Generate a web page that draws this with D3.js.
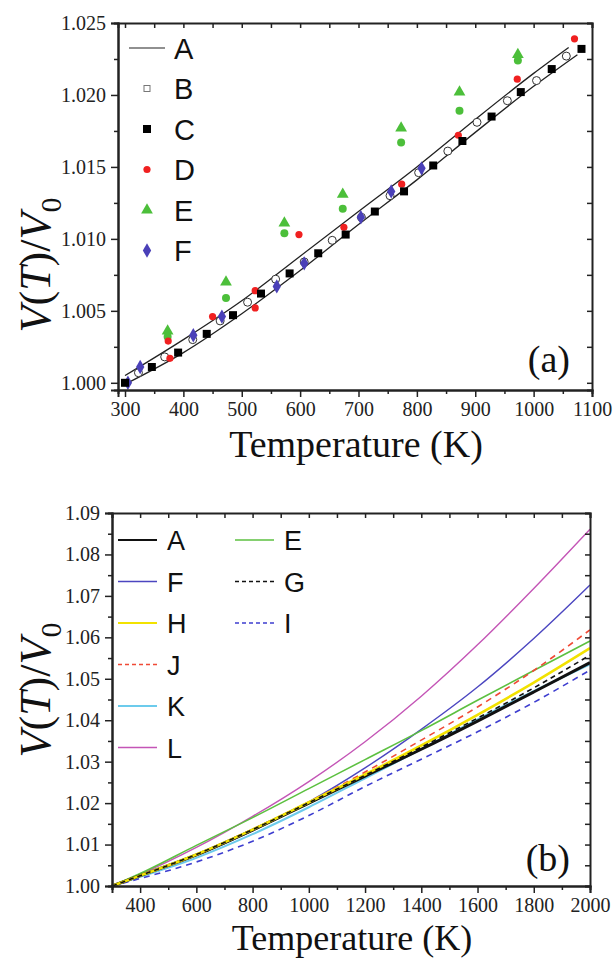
<!DOCTYPE html>
<html>
<head>
<meta charset="utf-8">
<script src="https://cdn.jsdelivr.net/npm/d3@7"></script>
<style>
  body { margin: 0; background: #fff; }
  svg { display: block; }
  .axis path, .axis line { stroke: #222; }
</style>
</head>
<body>
<script>
'use strict';

// ---- panel (a) data ----
var aUpperT = [300, 400, 500, 600, 700, 800, 900, 1000, 1060];
var aUpperV = [1.0005, 1.0030, 1.0057, 1.0088, 1.0119, 1.0150, 1.0183, 1.0215, 1.0233];
var aLowerT = [300, 400, 500, 600, 700, 800, 900, 1000, 1075];
var aLowerV = [0.9999, 1.0021, 1.0048, 1.0078, 1.0110, 1.0141, 1.0174, 1.0206, 1.0228];

var bT = [323, 368, 416, 463, 510, 558, 607, 655, 705, 754, 803, 853, 903, 955, 1005, 1056];
var bV = [1.0007, 1.0018, 1.0030, 1.0043, 1.0056, 1.0072, 1.0084, 1.0099, 1.0115, 1.0130, 1.0146, 1.0161, 1.0181, 1.0196, 1.0210, 1.0227];

var cT = [300, 346, 391, 440, 485, 533, 582, 631, 678, 728, 778, 828, 878, 928, 978, 1031, 1082];
var cV = [1.0000, 1.0011, 1.0021, 1.0034, 1.0047, 1.0062, 1.0076, 1.0090, 1.0103, 1.0119, 1.0133, 1.0151, 1.0168, 1.0185, 1.0202, 1.0218, 1.0232];

var dT = [377, 374, 450, 523, 523, 598, 675, 774, 871, 972, 1070];
var dV = [1.0017, 1.0029, 1.0046, 1.0052, 1.0064, 1.0103, 1.0108, 1.0138, 1.0172, 1.0211, 1.0239];

var eT = [373, 473, 573, 673, 773, 873, 973];
var eUpperV = [1.0036, 1.0070, 1.0111, 1.0131, 1.0177, 1.0202, 1.0228];
var eLowerV = [1.0032, 1.0059, 1.0104, 1.0121, 1.0167, 1.0189, 1.0224];

var fT = [305, 326, 417, 466, 560, 607, 704, 756, 808];
var fV = [1.0000, 1.0011, 1.0033, 1.0046, 1.0067, 1.0083, 1.0115, 1.0133, 1.0149];

var legendA = ['A', 'B', 'C', 'D', 'E', 'F'];
var xTicksA = [300, 400, 500, 600, 700, 800, 900, 1000, 1100];
var yTicksA = [1.000, 1.005, 1.010, 1.015, 1.020, 1.025];

// ---- panel (b) data ----
var tempB = [300, 400, 600, 800, 1000, 1200, 1400, 1600, 1800, 2000];
var serA = [1.0000, 1.0025, 1.0075, 1.0135, 1.0200, 1.0265, 1.0330, 1.0398, 1.0468, 1.0539];
var serE = [1.0000, 1.0030, 1.0098, 1.0165, 1.0235, 1.0305, 1.0375, 1.0448, 1.0520, 1.0591];
var serF = [1.0000, 1.0025, 1.0074, 1.0133, 1.0203, 1.0285, 1.0378, 1.0480, 1.0597, 1.0726];
var serG = [1.0000, 1.0025, 1.0076, 1.0136, 1.0201, 1.0267, 1.0335, 1.0405, 1.0478, 1.0557];
var serH = [1.0000, 1.0025, 1.0076, 1.0136, 1.0202, 1.0269, 1.0339, 1.0413, 1.0491, 1.0574];
var serI = [1.0000, 1.0018, 1.0058, 1.0108, 1.0170, 1.0240, 1.0306, 1.0372, 1.0443, 1.0521];
var serJ = [1.0000, 1.0025, 1.0076, 1.0137, 1.0203, 1.0275, 1.0352, 1.0432, 1.0520, 1.0618];
var serK = [1.0000, 1.0022, 1.0068, 1.0125, 1.0190, 1.0260, 1.0330, 1.0402, 1.0470, 1.0535];
var serL = [1.0000, 1.0028, 1.0093, 1.0168, 1.0252, 1.0348, 1.0458, 1.0582, 1.0718, 1.0861];

var xTicksB = [400, 600, 800, 1000, 1200, 1400, 1600, 1800, 2000];
var yTicksB = [1.00, 1.01, 1.02, 1.03, 1.04, 1.05, 1.06, 1.07, 1.08, 1.09];

var serif = '"Liberation Serif", "Times New Roman", serif';
var sans = '"Liberation Sans", Arial, sans-serif';

var svg = d3.select('body').append('svg').attr('width', 615).attr('height', 959);

//frame with ticks on four sides
function frame(g, x, y, xt, xminor, yt, yminor, xfmt, yfmt, pad) {
  var w = x.range()[1] - x.range()[0];
  var h = y.range()[0] - y.range()[1];
  var x0 = x.range()[0], y0 = y.range()[1];
  g.append('g').attr('class', 'axis').attr('transform', 'translate(0,' + (y0 + h) + ')')
    .call(d3.axisBottom(x).tickValues(xminor).tickSize(4).tickFormat(''));
  g.append('g').attr('class', 'axis').attr('transform', 'translate(0,' + (y0 + h) + ')')
    .call(d3.axisBottom(x).tickValues(xt).tickSize(7).tickPadding(pad).tickFormat(xfmt));
  g.append('g').attr('class', 'axis').attr('transform', 'translate(' + x0 + ',0)')
    .call(d3.axisLeft(y).tickValues(yminor).tickSize(4).tickFormat(''));
  g.append('g').attr('class', 'axis').attr('transform', 'translate(' + x0 + ',0)')
    .call(d3.axisLeft(y).tickValues(yt).tickSize(7).tickPadding(5).tickFormat(yfmt));
  g.append('g').attr('class', 'axis').attr('transform', 'translate(0,' + y0 + ')')
    .call(d3.axisBottom(x).tickValues(xt.concat(xminor)).tickSize(5).tickFormat(''));
  g.append('g').attr('class', 'axis').attr('transform', 'translate(' + (x0 + w) + ',0)')
    .call(d3.axisLeft(y).tickValues(yt.concat(yminor)).tickSize(5).tickFormat(''));
  g.selectAll('.axis').attr('font-family', serif).attr('font-size', 20);
  g.selectAll('.tick text').style('font-family', serif).style('font-size', '20px').attr('fill', '#222');
  g.selectAll('.axis path').attr('stroke-width', 2);
  g.selectAll('.axis line').attr('stroke-width', 1.5);
}

function yTitle(g, cx, cy) {
  var t = g.append('text').attr('transform', 'translate(' + cx + ',' + cy + ') rotate(-90)')
    .attr('text-anchor', 'middle').style('font-family', serif).style('font-size', '44px').attr('fill', '#111');
  t.append('tspan').style('font-style', 'italic').text('V');
  t.append('tspan').text('(');
  t.append('tspan').style('font-style', 'italic').text('T');
  t.append('tspan').text(')/');
  t.append('tspan').style('font-style', 'italic').text('V');
  t.append('tspan').attr('dy', 11).style('font-size', '30px').text('0');
}

function xTitle(g, cx, by, fs) {
  g.append('text').attr('x', cx).attr('y', by).attr('text-anchor', 'middle')
    .style('font-family', serif).style('font-size', fs + 'px').attr('fill', '#111').text('Temperature (K)');
}

// ================= panel (a) =================
var ga = svg.append('g');
var xa = d3.scaleLinear().domain([288, 1100]).range([118, 592]);
var ya = d3.scaleLinear().domain([0.9995, 1.025]).range([390, 23]);

var lineA = d3.line().curve(d3.curveMonotoneX).x(function (d) { return xa(d[0]); }).y(function (d) { return ya(d[1]); });
ga.append('path').datum(d3.zip(aUpperT, aUpperV)).attr('d', lineA).attr('fill', 'none').attr('stroke', '#222').attr('stroke-width', 1.3);
ga.append('path').datum(d3.zip(aLowerT, aLowerV)).attr('d', lineA).attr('fill', 'none').attr('stroke', '#222').attr('stroke-width', 1.3);

var sq = d3.symbol().type(d3.symbolSquare).size(64);
var tri = d3.symbol().type(d3.symbolTriangle).size(60);
var dia = d3.symbol().type(d3.symbolDiamond).size(60);

// E (triangles and circles)
ga.selectAll('.e1').data(d3.zip(eT, eLowerV)).enter().append('circle')
  .attr('cx', function (d) { return xa(d[0]); }).attr('cy', function (d) { return ya(d[1]); })
  .attr('r', 4).attr('fill', '#4cbf3a');
ga.selectAll('.e2').data(d3.zip(eT, eUpperV)).enter().append('path').attr('d', tri)
  .attr('transform', function (d) { return 'translate(' + xa(d[0]) + ',' + ya(d[1]) + ')'; })
  .attr('fill', '#4cbf3a');
// B
ga.selectAll('.b').data(d3.zip(bT, bV)).enter().append('circle')
  .attr('cx', function (d) { return xa(d[0]); }).attr('cy', function (d) { return ya(d[1]); })
  .attr('r', 4).attr('fill', '#fff').attr('stroke', '#333').attr('stroke-width', 1);
// F
ga.selectAll('.f').data(d3.zip(fT, fV)).enter().append('path').attr('d', dia)
  .attr('transform', function (d) { return 'translate(' + xa(d[0]) + ',' + ya(d[1]) + ')'; })
  .attr('fill', '#4a40b8');
// D
ga.selectAll('.d').data(d3.zip(dT, dV)).enter().append('circle')
  .attr('cx', function (d) { return xa(d[0]); }).attr('cy', function (d) { return ya(d[1]); })
  .attr('r', 3.6).attr('fill', '#f02020');
// C
ga.selectAll('.c').data(d3.zip(cT, cV)).enter().append('path').attr('d', sq)
  .attr('transform', function (d) { return 'translate(' + xa(d[0]) + ',' + ya(d[1]) + ')'; })
  .attr('fill', '#000');

frame(ga, xa, ya, xTicksA, [350, 450, 550, 650, 750, 850, 950, 1050],
  yTicksA, [1.0025, 1.0075, 1.0125, 1.0175, 1.0225], d3.format('d'), d3.format('.3f'), 5);

// legend (a)
var legA = ga.append('g');
legendA.forEach(function (k, i) {
  var ly = 48 + i * 40.5;
  if (k === 'A') {
    legA.append('line').attr('x1', 129).attr('x2', 165).attr('y1', ly).attr('y2', ly).attr('stroke', '#222').attr('stroke-width', 1.2);
  } else if (k === 'B') {
    legA.append('rect').attr('x', 144).attr('y', ly - 3).attr('width', 6).attr('height', 6).attr('fill', 'none').attr('stroke', '#777');
  } else if (k === 'C') {
    legA.append('path').attr('d', sq).attr('transform', 'translate(147,' + ly + ')').attr('fill', '#000');
  } else if (k === 'D') {
    legA.append('circle').attr('cx', 147).attr('cy', ly).attr('r', 3.6).attr('fill', '#f02020');
  } else if (k === 'E') {
    legA.append('path').attr('d', tri).attr('transform', 'translate(147,' + ly + ')').attr('fill', '#4cbf3a');
  } else {
    legA.append('path').attr('d', dia).attr('transform', 'translate(147,' + ly + ')').attr('fill', '#4a40b8');
  }
  legA.append('text').attr('x', 174).attr('y', ly + 10.5).style('font-family', sans).style('font-size', '29px').attr('fill', '#111').text(k);
});

ga.append('text').attr('x', 570).attr('y', 372).attr('text-anchor', 'end')
  .style('font-family', serif).style('font-size', '38px').attr('fill', '#111').text('(a)');

xTitle(ga, 356, 457, 38);
yTitle(ga, 50, 265);

// ================= panel (b) =================
var gb = svg.append('g');
var xb = d3.scaleLinear().domain([300, 2000]).range([112, 590]);
var yb = d3.scaleLinear().domain([1.00, 1.09]).range([886, 513]);

var seriesB = [
  { k: 'K', v: serK, c: '#6ccbec', w: 2, dash: null },
  { k: 'I', v: serI, c: '#3e3ed0', w: 1.6, dash: '6,5' },
  { k: 'L', v: serL, c: '#c455b6', w: 1.4, dash: null },
  { k: 'F', v: serF, c: '#4b46c0', w: 1.4, dash: null },
  { k: 'E', v: serE, c: '#5cc040', w: 1.6, dash: null },
  { k: 'J', v: serJ, c: '#f04a36', w: 1.6, dash: '6,5' },
  { k: 'A', v: serA, c: '#111', w: 3, dash: null },
  { k: 'H', v: serH, c: '#f2e200', w: 2.6, dash: null },
  { k: 'G', v: serG, c: '#111', w: 1.6, dash: '5,4' }
];

var lineB = d3.line().curve(d3.curveMonotoneX).x(function (d) { return xb(d[0]); }).y(function (d) { return yb(d[1]); });
seriesB.forEach(function (s) {
  gb.append('path').datum(d3.zip(tempB, s.v)).attr('d', lineB).attr('fill', 'none')
    .attr('stroke', s.c).attr('stroke-width', s.w).attr('stroke-dasharray', s.dash);
});

frame(gb, xb, yb, xTicksB, [300, 500, 700, 900, 1100, 1300, 1500, 1700, 1900],
  yTicksB, [1.005, 1.015, 1.025, 1.035, 1.045, 1.055, 1.065, 1.075, 1.085], d3.format('d'), d3.format('.2f'), 5);

// legend (b)
var legCols = [['A', 'F', 'H', 'J', 'K', 'L'], ['E', 'G', 'I']];
var legB = gb.append('g');
legCols.forEach(function (col, ci) {
  col.forEach(function (k, i) {
    var s = seriesB.filter(function (d) { return d.k === k; })[0];
    var lx = ci === 0 ? 118 : 235;
    var ly = 540 + i * 41.5;
    legB.append('line').attr('x1', lx).attr('x2', lx + 39).attr('y1', ly).attr('y2', ly)
      .attr('stroke', s.c).attr('stroke-width', Math.min(s.w, 2.2)).attr('stroke-dasharray', s.dash ? '4,3' : null);
    legB.append('text').attr('x', lx + 49).attr('y', ly + 10).style('font-family', sans).style('font-size', '27px').attr('fill', '#111').text(k);
  });
});

gb.append('text').attr('x', 570).attr('y', 871).attr('text-anchor', 'end')
  .style('font-family', serif).style('font-size', '38px').attr('fill', '#111').text('(b)');

xTitle(gb, 352, 950, 36);
yTitle(gb, 50, 690);
</script>
</body>
</html>
